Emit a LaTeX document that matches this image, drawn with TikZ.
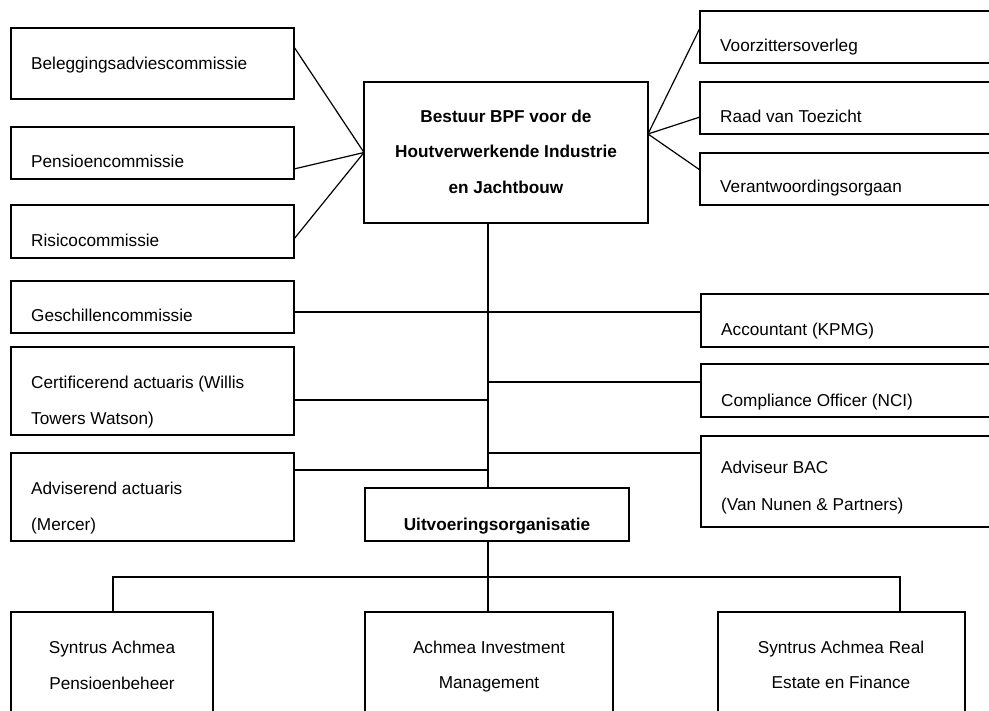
\documentclass[tikz,border=0pt]{standalone}
\usepackage{fontspec}
\setmainfont{Liberation Sans}
\begin{document}
\begin{tikzpicture}[x=1pt,y=-1pt,
  box/.style={draw=black,line width=1.2pt,fill=white,inner sep=0pt,outer sep=0pt,anchor=north west},
  lbl/.style={inner sep=0pt,font=\fontsize{17.2}{20}\selectfont},
  blbl/.style={inner sep=0pt,font=\fontsize{17.2}{20}\selectfont\bfseries},
  conn/.style={draw=black,line width=1.2pt}]
\useasboundingbox (0,0) rectangle (989,711);
\clip (0,0) rectangle (989,711);
% left boxes
\node[box,minimum width=283pt,minimum height=71pt] (bel) at (11,28) {};
\node[box,minimum width=283pt,minimum height=52pt] (pen) at (11,127) {};
\node[box,minimum width=283pt,minimum height=53pt] (ris) at (11,205) {};
\node[box,minimum width=283pt,minimum height=52pt] (ges) at (11,281) {};
\node[box,minimum width=283pt,minimum height=88pt] (cert) at (11,347) {};
\node[box,minimum width=283pt,minimum height=88pt] (adv) at (11,453) {};
% centre
\node[box,minimum width=284pt,minimum height=141pt] (bestuur) at (364,82) {};
\node[box,minimum width=264pt,minimum height=53pt] (uitv) at (365,488) {};
% right boxes
\node[box,minimum width=320pt,minimum height=52pt] (voor) at (700,11) {};
\node[box,minimum width=320pt,minimum height=52pt] (raad) at (700,82) {};
\node[box,minimum width=320pt,minimum height=52pt] (ver) at (700,153) {};
\node[box,minimum width=320pt,minimum height=53pt] (acc) at (701,294) {};
\node[box,minimum width=320pt,minimum height=53pt] (comp) at (701,364) {};
\node[box,minimum width=320pt,minimum height=91pt] (advb) at (701,436) {};
% bottom boxes
\node[box,minimum width=202pt,minimum height=120pt] (sp) at (11,612) {};
\node[box,minimum width=248pt,minimum height=120pt] (aim) at (365,612) {};
\node[box,minimum width=247pt,minimum height=120pt] (sre) at (718,612) {};
% texts
\node[lbl,anchor=base west] (belT) at (31,70) {Beleggingsadviescommissie};
\node[lbl,anchor=base west] (penT) at (31,168) {Pensioencommissie};
\node[lbl,anchor=base west] (risT) at (31,247) {Risicocommissie};
\node[lbl,anchor=base west] (gesT) at (31,322) {Geschillencommissie};
\node[lbl,anchor=base west] (certT1) at (31,389) {Certificerend actuaris (Willis};
\node[lbl,anchor=base west] (certT2) at (31,425) {Towers Watson)};
\node[lbl,anchor=base west] (advT1) at (31,495) {Adviserend actuaris};
\node[lbl,anchor=base west] (advT2) at (31,530) {(Mercer)};
\node[blbl,anchor=base] (bT1) at (506,123) {Bestuur BPF voor de};
\node[blbl,anchor=base] (bT2) at (506,158) {Houtverwerkende Industrie};
\node[blbl,anchor=base] (bT3) at (506,194) {en Jachtbouw};
\node[blbl,anchor=base] (uT) at (497,530) {Uitvoeringsorganisatie};
\node[lbl,anchor=base west] (voorT) at (720,52) {Voorzittersoverleg};
\node[lbl,anchor=base west] (raadT) at (720,123) {Raad van Toezicht};
\node[lbl,anchor=base west] (verT) at (720,193) {Verantwoordingsorgaan};
\node[lbl,anchor=base west] (accT) at (721,336) {Accountant (KPMG)};
\node[lbl,anchor=base west] (compT) at (721,407) {Compliance Officer (NCI)};
\node[lbl,anchor=base west] (advbT1) at (721,474) {Adviseur BAC};
\node[lbl,anchor=base west] (advbT2) at (721,511) {(Van Nunen \& Partners)};
\node[lbl,anchor=base] (spT1) at (112,653) {Syntrus Achmea};
\node[lbl,anchor=base] (spT2) at (112,689) {Pensioenbeheer};
\node[lbl,anchor=base] (aimT1) at (489,653) {Achmea Investment};
\node[lbl,anchor=base] (aimT2) at (489,688) {Management};
\node[lbl,anchor=base] (sreT1) at (841,653) {Syntrus Achmea Real};
\node[lbl,anchor=base] (sreT2) at (841,688) {Estate en Finance};
% connectors left fan
\draw[conn] ([yshift=-19pt]bel.north east) -- (bestuur.west);
\draw[conn] ([yshift=10pt]pen.south east) -- (bestuur.west);
\draw[conn] ([yshift=19pt]ris.south east) -- (bestuur.west);
% right fan
\coordinate (bR) at ([yshift=18.5pt]bestuur.east);
\draw[conn] (bR) -- ([yshift=-17pt]voor.north west);
\draw[conn] (bR) -- ([yshift=17pt]raad.south west);
\draw[conn] (bR) -- ([yshift=-17pt]ver.north west);
% spine
\coordinate (sTop) at ([xshift=-18pt]bestuur.south);
\coordinate (sBot) at ([xshift=-9pt]uitv.north);
\draw[conn] (sTop) -- (sBot);
\coordinate (j1) at (488,312);
\coordinate (j2) at (488,382);
\coordinate (j3) at (488,400);
\coordinate (j4) at (488,453);
\coordinate (j5) at (488,470);
\draw[conn] (ges.east |- j1) -- (j1) -- (acc.west |- j1);
\draw[conn] (j2) -- (comp.west |- j2);
\draw[conn] (cert.east |- j3) -- (j3);
\draw[conn] (j4) -- (advb.west |- j4);
\draw[conn] (adv.east |- j5) -- (j5);
% bottom bus
\coordinate (bl) at (113,577);
\coordinate (bm) at (488,577);
\coordinate (br) at (900,577);
\draw[conn] ([xshift=-9pt]uitv.south) -- (bm);
\draw[conn] (sp.north -| bl) -- (bl) -- (br) -- (sre.north -| br);
\draw[conn] (bm) -- (aim.north -| bm);
\end{tikzpicture}
\end{document}
